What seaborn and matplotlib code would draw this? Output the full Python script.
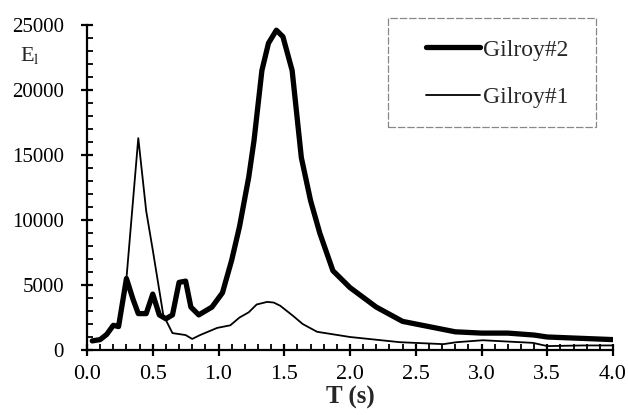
import numpy as np
import pandas as pd
import matplotlib
matplotlib.use("Agg")
import matplotlib.pyplot as plt
from matplotlib.patches import Rectangle
from matplotlib.ticker import MultipleLocator
import seaborn as sns

# ---- data ----
t_g2 = [0.04, 0.10, 0.15, 0.20, 0.24, 0.30, 0.35, 0.39, 0.45, 0.50, 0.55, 0.60,
        0.65, 0.70, 0.75, 0.79, 0.85, 0.95, 1.03, 1.10, 1.16, 1.23, 1.27, 1.33,
        1.38, 1.44, 1.49, 1.56, 1.63, 1.70, 1.77, 1.87, 2.00, 2.20, 2.40, 2.60,
        2.80, 3.00, 3.20, 3.40, 3.50, 3.75, 4.00]
e_g2 = [700, 800, 1200, 1900, 1800, 5500, 3900, 2800, 2800, 4300, 2700, 2400,
        2700, 5200, 5300, 3300, 2700, 3300, 4400, 6900, 9500, 13300, 16100, 21500,
        23600, 24600, 24100, 21500, 14800, 11500, 9000, 6100, 4800, 3300, 2200, 1800,
        1400, 1300, 1300, 1150, 1000, 900, 800]

t_g1 = [0.04, 0.10, 0.15, 0.20, 0.25, 0.30, 0.35, 0.39, 0.45, 0.50, 0.58, 0.65,
        0.75, 0.80, 0.86, 0.99, 1.09, 1.16, 1.23, 1.29, 1.37, 1.42, 1.47, 1.57,
        1.64, 1.75, 2.00, 2.38, 2.71, 2.81, 3.01, 3.20, 3.39, 3.50, 3.77, 4.00]
e_g1 = [700, 800, 1200, 1800, 2200, 5500, 11500, 16300, 10700, 7700, 2700, 1300,
        1150, 850, 1150, 1700, 1900, 2500, 2900, 3500, 3700, 3650, 3400, 2600,
        2000, 1400, 1000, 600, 450, 600, 750, 650, 550, 300, 350, 350]

labels = ["Gilroy#2", "Gilroy#1"]
x_ticks = [0.0, 0.5, 1.0, 1.5, 2.0, 2.5, 3.0, 3.5, 4.0]
y_ticks = [0, 5000, 10000, 15000, 20000, 25000]

sns.set_theme(style="ticks")
plt.rcParams['font.family'] = ['Liberation Serif', 'DejaVu Serif']
plt.rcParams['mathtext.fontset'] = 'stix'

df2 = pd.DataFrame({"T": t_g2, "E": e_g2})
df1 = pd.DataFrame({"T": t_g1, "E": e_g1})

fig = plt.figure(figsize=(6.28, 4.15), dpi=100)
ax = fig.add_axes([87/628, 1-350/415, (613-87)/628, (350-25)/415])

sns.lineplot(data=df2, x="T", y="E", ax=ax, color="black", linewidth=3.8,
             sort=False, estimator=None, label=labels[0])
sns.lineplot(data=df1, x="T", y="E", ax=ax, color="black", linewidth=1.3,
             sort=False, estimator=None, label=labels[1])

ax.set_xlim(0, 4.0)
ax.set_ylim(0, 25000)
ax.set_xticks(x_ticks)
ax.set_xticklabels([f"{v:.1f}" for v in x_ticks])
ax.set_yticks(y_ticks)
ax.set_yticklabels([str(v) for v in y_ticks])
ax.xaxis.set_minor_locator(MultipleLocator(0.1))
ax.yaxis.set_minor_locator(MultipleLocator(1000))

for s in ["top", "right"]:
    ax.spines[s].set_visible(False)
for s in ["left", "bottom"]:
    ax.spines[s].set_linewidth(1.6)
    ax.spines[s].set_color("black")

ax.tick_params(axis="both", which="major", direction="inout", length=9,
               width=1.6, colors="black")
ax.tick_params(axis="both", which="minor", direction="in", length=4,
               width=1.3, colors="black")
ax.tick_params(axis="x", which="major", labelsize=16, pad=6)
ax.tick_params(axis="y", which="major", labelsize=15, pad=12)

ax.set_xlabel("T (s)", fontsize=18, fontweight="bold", labelpad=2)
ax.set_ylabel("")
fig.text(20/628, 1-55/415, r"E$_{\mathrm{l}}$", fontsize=16, va="center", ha="left")

leg = ax.legend(loc="upper right", bbox_to_anchor=(0.955, 1.022), frameon=False,
                fontsize=17, handlelength=2.3, handletextpad=0.1,
                labelspacing=1.1, borderpad=0.4)
rect = Rectangle(((388-87)/526, (350-127)/325), (596-388)/526, (127-18)/325,
                 transform=ax.transAxes, fill=False, edgecolor="#888888",
                 linewidth=0.9, linestyle=(0, (6, 1.5)), clip_on=False)
ax.add_patch(rect)

fig.savefig("out.png", dpi=100)
